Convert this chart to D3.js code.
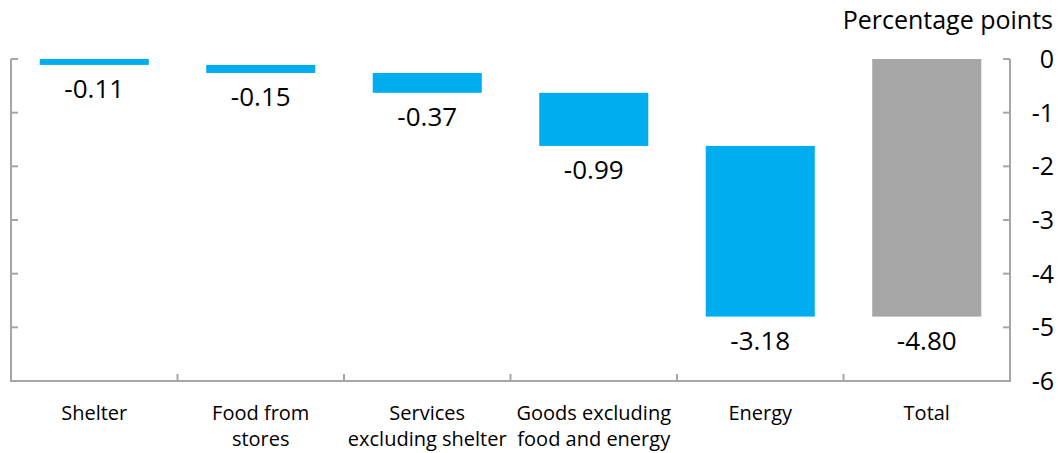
<!DOCTYPE html>
<html><head><meta charset="utf-8">
<script src="https://cdn.jsdelivr.net/npm/d3@7"></script>
<style>body{margin:0;background:#fff}svg{display:block}text{font-family:"Open Sans","Noto Sans",sans-serif;fill:#000}</style>
</head><body><svg id="c" width="1063" height="453"></svg>
<script>
const categories = [["Shelter"],["Food from","stores"],["Services","excluding shelter"],["Goods excluding","food and energy"],["Energy"],["Total"]];
const values = [-0.11,-0.15,-0.37,-0.99,-3.18,-4.80];
const isTotal = [false,false,false,false,false,true];
const yTicks = [0,-1,-2,-3,-4,-5,-6];
const unitLabel = "Percentage points";

const svg = d3.select("#c");
const L = 11, R = 1010, T = 59, B = 381;
const x = d3.scaleBand().domain(d3.range(categories.length)).range([L,R]).paddingInner(0.345).paddingOuter(0.1725);
const y = d3.scaleLinear().domain([0,-6]).range([T,B]);
const axisCol = "#a6a6a6";

let cum = 0;
const bars = values.map((v,i)=>{
  let s,e;
  if(isTotal[i]){s=0;e=v;} else {s=cum;e=cum+v;cum=e;}
  return {i,v,s,e};
});

svg.selectAll("rect.bar").data(bars).enter().append("rect")
  .attr("x",d=>x(d.i)).attr("width",x.bandwidth())
  .attr("y",d=>y(Math.max(d.s,d.e))).attr("height",d=>Math.abs(y(d.e)-y(d.s)))
  .attr("fill",d=>isTotal[d.i]?"#a6a6a6":"#00aeef");

svg.selectAll("text.val").data(bars).enter().append("text")
  .attr("x",d=>x(d.i)+x.bandwidth()/2).attr("y",d=>y(Math.min(d.s,d.e))+33)
  .attr("text-anchor","middle").style("font-size","26px")
  .text(d=>d.v.toFixed(2));

const g = svg.append("g").attr("stroke",axisCol).attr("stroke-width",2).attr("fill","none");
g.append("path").attr("d",`M${L},${T}V${B}H${R}V${T}`);
yTicks.forEach(t=>{
  g.append("line").attr("x1",L).attr("x2",L+7).attr("y1",y(t)).attr("y2",y(t));
  g.append("line").attr("x1",R).attr("x2",R-7).attr("y1",y(t)).attr("y2",y(t));
});
const step = x.step();
for(let i=1;i<categories.length;i++){
  const bx = x(i) - (step - x.bandwidth())/2;
  g.append("line").attr("x1",bx).attr("x2",bx).attr("y1",B).attr("y2",B-7);
}

svg.selectAll("text.yt").data(yTicks).enter().append("text")
  .attr("x",1054).attr("y",d=>y(d)+9).attr("text-anchor","end").style("font-size","25px")
  .text(d=>d===0?"0":String(d));

svg.append("text").attr("x",1053).attr("y",29).attr("text-anchor","end").style("font-size","25px").text(unitLabel);

categories.forEach((lines,i)=>{
  const cx = x(i)+x.bandwidth()/2;
  const t = svg.append("text").attr("text-anchor","middle").style("font-size","20px");
  lines.forEach((ln,j)=>t.append("tspan").attr("x",cx).attr("y",420+j*26).text(ln));
});
</script></body></html>
